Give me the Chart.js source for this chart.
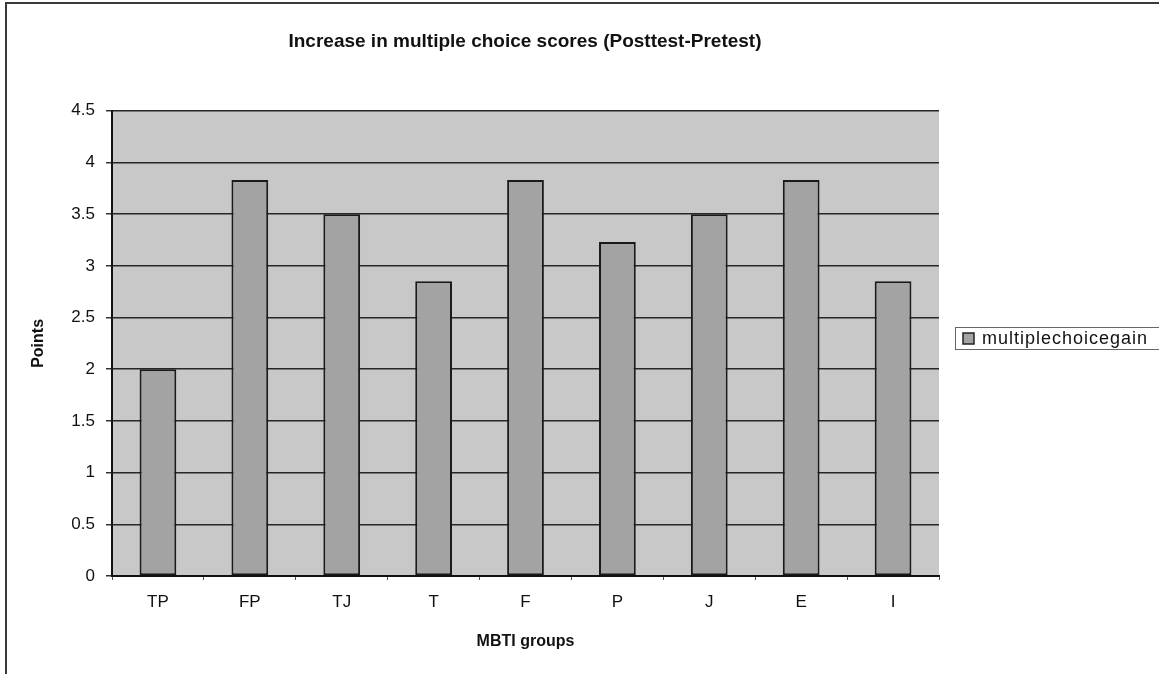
<!DOCTYPE html>
<html>
<head>
<meta charset="utf-8">
<script src="https://cdn.jsdelivr.net/npm/chart.js@4.4.0/dist/chart.umd.min.js"></script>
<style>
  html, body { margin: 0; padding: 0; background: #fff; overflow: hidden; }
  #wrap { position: relative; width: 1159px; height: 674px; }
  #frame { position: absolute; left: 5px; top: 2px; width: 1300px; height: 800px; border: 2px solid #3a3a3a; box-sizing: border-box; pointer-events: none; }
</style>
</head>
<body>
<div id="wrap">
  <canvas id="gainChart" width="1159" height="674"></canvas>
  <div id="frame"></div>
</div>
<script>
const groups = ["TP", "FP", "TJ", "T", "F", "P", "J", "E", "I"];
const multipleChoiceGain = [2.0, 3.83, 3.5, 2.85, 3.83, 3.23, 3.5, 3.83, 2.85];
const seriesName = "multiplechoicegain";
const yTicks = [0, 0.5, 1, 1.5, 2, 2.5, 3, 3.5, 4, 4.5];

const plotBg = "#c8c8c8";
const barFill = "#a3a3a3";
const ink = "#111";
const fontFamily = "Arial, 'Liberation Sans', sans-serif";

// grey plot area behind the bars
const plotBackground = {
    id: "plotBackground",
    beforeDraw(chart) {
        const { ctx, chartArea: a } = chart;
        ctx.save();
        ctx.fillStyle = plotBg;
        ctx.fillRect(a.left, a.top, a.right - a.left, a.bottom - a.top);
        ctx.restore();
    }
};

// the original title sits centred between the y-axis and the legend
const titleOverPlot = {
    id: "titleOverPlot",
    afterLayout(chart) {
        const t = chart.titleBlock;
        if (!t) return;
        t.left = 111;
        t.right = chart.chartArea.right;
        t.width = t.right - t.left;
    }
};

// boxed legend to the right of the plot, like the original
const boxLegend = {
    id: "boxLegend",
    afterDraw(chart) {
        const { ctx } = chart;
        const ds = chart.data.datasets[0];
        ctx.save();
        ctx.strokeStyle = "#666";
        ctx.lineWidth = 1;
        ctx.strokeRect(955.5, 327.5, 230, 22);
        ctx.fillStyle = ds.backgroundColor;
        ctx.fillRect(963, 333, 11, 11);
        ctx.strokeStyle = "#222";
        ctx.lineWidth = 1.5;
        ctx.strokeRect(963, 333, 11, 11);
        ctx.fillStyle = ink;
        ctx.font = "18px " + fontFamily;
        if ("letterSpacing" in ctx) ctx.letterSpacing = "1px";
        ctx.textBaseline = "middle";
        ctx.fillText(ds.label, 982, 339);
        ctx.restore();
    }
};

new Chart(document.getElementById("gainChart"), {
    type: "bar",
    data: {
        labels: groups,
        datasets: [{
            label: seriesName,
            data: multipleChoiceGain,
            backgroundColor: barFill,
            borderColor: "#1a1a1a",
            borderWidth: 2,
            borderSkipped: false,
            barPercentage: 0.4,
            categoryPercentage: 1.0
        }]
    },
    options: {
        responsive: false,
        animation: false,
        devicePixelRatio: 1,
        layout: { padding: { left: 0, right: 220, top: 0, bottom: 23 } },
        plugins: {
            legend: { display: false },
            tooltip: { enabled: false },
            title: {
                display: true,
                text: "Increase in multiple choice scores (Posttest-Pretest)",
                color: ink,
                font: { family: fontFamily, size: 19, weight: "bold" },
                padding: { top: 30, bottom: 58 }
            }
        },
        scales: {
            x: {
                grid: { display: true, drawOnChartArea: false, drawTicks: true, tickLength: 4, tickColor: "#555", offset: true },
                border: { display: true, color: "#111", width: 2 },
                ticks: {
                    color: ink,
                    padding: 12,
                    maxRotation: 0,
                    font: { family: fontFamily, size: 17 }
                },
                title: {
                    display: true,
                    text: "MBTI groups",
                    color: ink,
                    font: { family: fontFamily, size: 16, weight: "bold" },
                    padding: { top: 0, bottom: 0 }
                },
                afterFit(scale) { scale.height = 75; }
            },
            y: {
                min: 0,
                max: 4.5,
                afterBuildTicks(scale) { scale.ticks = yTicks.map((v) => ({ value: v })); },
                grid: { color: "#262626", lineWidth: 1.5, tickLength: 6, tickColor: "#333" },
                border: { display: true, color: "#111", width: 2 },
                ticks: {
                    color: ink,
                    padding: 11,
                    font: { family: fontFamily, size: 17 },
                    callback: (v) => String(v)
                },
                title: {
                    display: true,
                    text: "Points",
                    color: ink,
                    font: { family: fontFamily, size: 16, weight: "bold" },
                    padding: { top: 29, bottom: 0 }
                },
                afterFit(scale) { scale.width = 112; }
            }
        }
    },
    plugins: [plotBackground, titleOverPlot, boxLegend]
});
</script>
</body>
</html>
